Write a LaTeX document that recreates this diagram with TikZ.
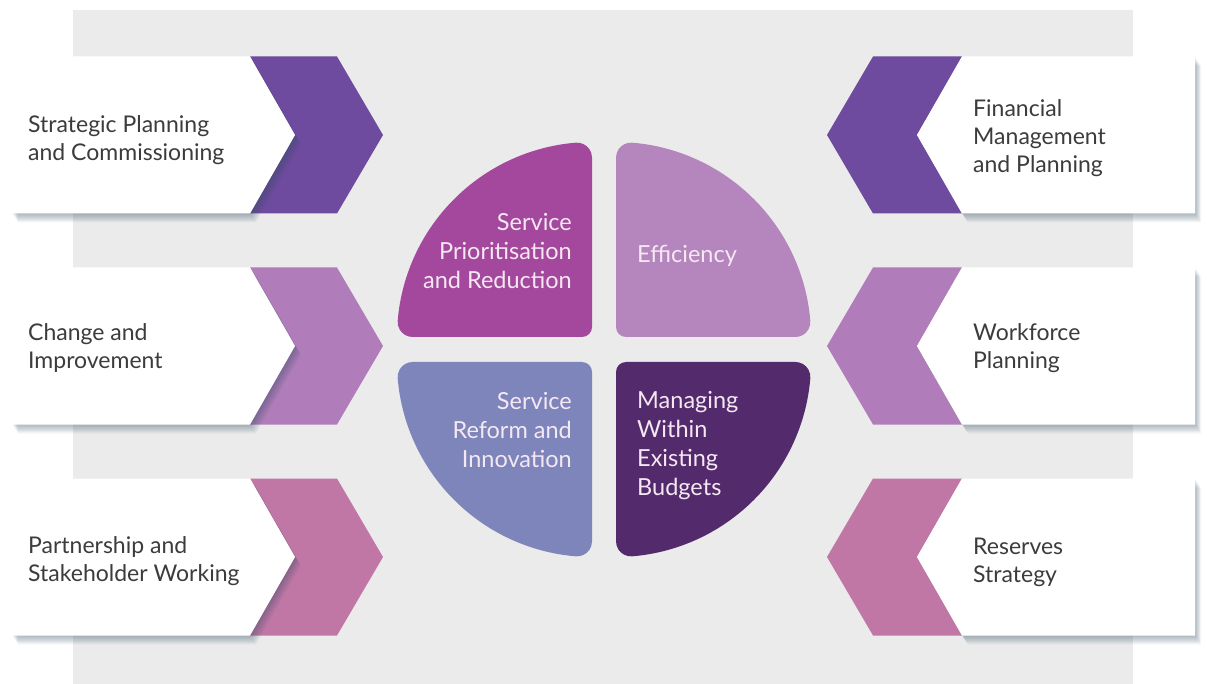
\documentclass[tikz,border=0pt]{standalone}
\usepackage{fontspec}
\setmainfont{Lato}
\definecolor{bggray}{HTML}{EBEBEB}
\definecolor{chevA}{HTML}{6E4B9E}
\definecolor{chevB}{HTML}{B07DBA}
\definecolor{chevC}{HTML}{C177A6}
\definecolor{qTL}{HTML}{A4489D}
\definecolor{qTR}{HTML}{B586BD}
\definecolor{qBL}{HTML}{7D85BB}
\definecolor{qBR}{HTML}{532A6B}
\definecolor{boxtext}{HTML}{3C3C3C}
\definecolor{qtext}{HTML}{F5E8F3}
\definecolor{shadowc}{HTML}{2E4A60}
\newcommand\quarterfill[1]{\fill[#1] (10,0) -- (179.37,0) arc[start angle=-90,end angle=4.78,radius=15] arc[start angle=4.78,end angle=85.22,radius=195] arc[start angle=85.22,end angle=180,radius=15] -- (0,10) arc[start angle=180,end angle=270,radius=10] -- cycle;}
\newcommand\leftrow[2]{%
  \fill[#2] (250,#1-78.5) -- (337,#1-78.5) -- (383,#1) -- (337,#1+78.5) -- (250,#1+78.5) -- (295,#1) -- cycle;
  \foreach \s in {1,...,10}{\fill[shadowc,opacity=0.045] ([shift={(0.6*\s,0.9*\s)}]12,#1-78.5) -- ([shift={(0.6*\s,0.9*\s)}]250,#1-78.5) -- ([shift={(0.6*\s,0.9*\s)}]295,#1) -- ([shift={(0.6*\s,0.9*\s)}]250,#1+78.5) -- ([shift={(0.6*\s,0.9*\s)}]12,#1+78.5) -- cycle;}
  \fill[white] (12,#1-78.5) -- (250,#1-78.5) -- (295,#1) -- (250,#1+78.5) -- (12,#1+78.5) -- cycle;}
\newcommand\rightrow[2]{%
  \fill[#2] (873,#1-78.5) -- (962,#1-78.5) -- (917,#1) -- (962,#1+78.5) -- (873,#1+78.5) -- (827,#1) -- cycle;
  \foreach \s in {1,...,10}{\fill[shadowc,opacity=0.045] ([shift={(0.6*\s,0.9*\s)}]962,#1-78.5) -- ([shift={(0.6*\s,0.9*\s)}]1195,#1-78.5) -- ([shift={(0.6*\s,0.9*\s)}]1195,#1+78.5) -- ([shift={(0.6*\s,0.9*\s)}]962,#1+78.5) -- ([shift={(0.6*\s,0.9*\s)}]917,#1) -- cycle;}
  \fill[white] (962,#1-78.5) -- (1195,#1-78.5) -- (1195,#1+78.5) -- (962,#1+78.5) -- (917,#1) -- cycle;}
\begin{document}
\begin{tikzpicture}[x=1pt,y=-1pt,
  boxlabel/.style={font=\fontsize{23}{28}\selectfont, text=boxtext, align=left, anchor=base west, inner sep=0pt},
  qlabelR/.style={font=\fontsize{23.5}{29}\selectfont, text=qtext, align=right, anchor=base east, inner sep=0pt},
  qlabelL/.style={font=\fontsize{23.5}{29}\selectfont, text=qtext, align=left, anchor=base west, inner sep=0pt}]
\useasboundingbox (0,0) rectangle (1207,684);
\fill[white] (0,0) rectangle (1207,684);
\fill[bggray] (73,10) rectangle (1133,684);
% side rows
\leftrow{135}{chevA}
\leftrow{346}{chevB}
\leftrow{557}{chevC}
\rightrow{135}{chevA}
\rightrow{346}{chevB}
\rightrow{557}{chevC}
% quadrants
\begin{scope}[shift={(592,337)},xscale=-1,yscale=-1]\quarterfill{qTL}\end{scope}
\begin{scope}[shift={(616,337)},yscale=-1]\quarterfill{qTR}\end{scope}
\begin{scope}[shift={(592,362)},xscale=-1]\quarterfill{qBL}\end{scope}
\begin{scope}[shift={(616,362)}]\quarterfill{qBR}\end{scope}
% labels (anchored at the baseline of the last line)
\node[boxlabel] (l1) at (28,161) {Strategic Planning\\and Commissioning};
\node[boxlabel] (l2) at (28,368) {Change and\\Improvement};
\node[boxlabel] (l3) at (28,581) {Partnership and\\Stakeholder Working};
\node[boxlabel] (r1) at (973,173) {Financial\\Management\\and Planning};
\node[boxlabel] (r2) at (973,368) {Workforce\\Planning};
\node[boxlabel] (r3) at (973,582) {Reserves\\Strategy};
\node[qlabelR] (q1) at (572,289) {Service\\Prioritisation\\and Reduction};
\node[qlabelL] (q2) at (637,263) {Efficiency};
\node[qlabelR] (q3) at (572,467) {Service\\Reform and\\Innovation};
\node[qlabelL] (q4) at (637,495) {Managing\\Within\\Existing\\Budgets};
\end{tikzpicture}
\end{document}
